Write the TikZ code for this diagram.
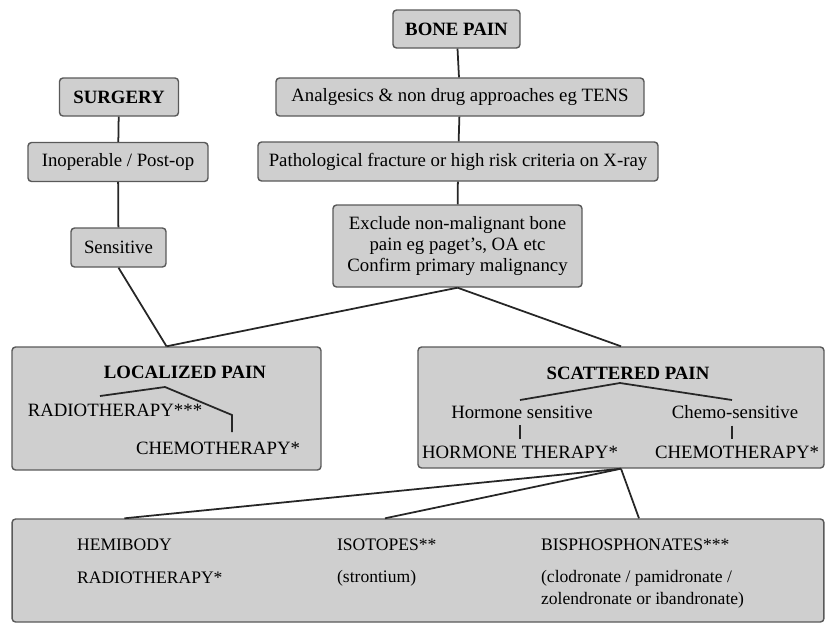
\documentclass[tikz,border=0pt]{standalone}
\usepackage{fontspec}
\setmainfont{Liberation Serif}
\definecolor{boxfill}{gray}{0.81}
\definecolor{boxline}{gray}{0.35}
\definecolor{linkcol}{gray}{0.15}
\tikzset{
  box/.style={draw=boxline, fill=boxfill, line width=0.8pt, rounded corners=0.07cm, inner sep=0pt, align=center},
  link/.style={draw=linkcol, line width=1pt},
  txt/.style={font=\fontsize{10.7}{12.2}\selectfont},
  head/.style={font=\fontsize{10.7}{12.2}\selectfont\bfseries},
  small/.style={font=\fontsize{10}{12}\selectfont, inner sep=1pt}
}
\begin{document}
\begin{tikzpicture}[x=0.02cm, y=-0.02cm]
  \useasboundingbox (0,0) rectangle (825,623);

  % main column
  \node[box, head, minimum width=2.54cm, minimum height=0.76cm] (bone) at (456.5,29) {BONE PAIN};
  \node[box, txt, minimum width=7.36cm, minimum height=0.76cm] (analg) at (460,97) {Analgesics \& non drug approaches eg TENS};
  \node[box, txt, minimum width=8cm, minimum height=0.78cm] (patho) at (458,161.5) {Pathological fracture or high risk criteria on X-ray};
  \node[box, txt, minimum width=4.98cm, minimum height=1.64cm] (excl) at (457.5,246) {Exclude non-malignant bone\\pain eg paget's, OA etc\\Confirm primary malignancy};

  % surgery column
  \node[box, head, minimum width=2.38cm, minimum height=0.76cm] (surg) at (119,97) {SURGERY};
  \node[box, txt, minimum width=3.6cm, minimum height=0.78cm] (inop) at (118,162) {Inoperable / Post-op};
  \node[box, txt, minimum width=1.9cm, minimum height=0.78cm] (sens) at (118.5,247.5) {Sensitive};

  % big boxes
  \node[box, minimum width=6.18cm, minimum height=2.46cm] (loc) at (166.5,408.5) {};
  \node[box, minimum width=8.12cm, minimum height=2.42cm] (scat) at (621,407.5) {};
  \node[box, minimum width=16.24cm, minimum height=2.06cm] (bot) at (418,570.5) {};

  \node[head] (loctitle) at (185,372) {LOCALIZED PAIN};
  \node[txt] (locradio) at (115,410) {RADIOTHERAPY***};
  \node[txt] (locchemo) at (218,448) {CHEMOTHERAPY*};

  \node[head] (scattitle) at (628,373) {SCATTERED PAIN};
  \node[txt] (hsens) at (522,412) {Hormone sensitive};
  \node[txt] (csens) at (735,412) {Chemo-sensitive};
  \node[txt] (hther) at (520,452) {HORMONE THERAPY*};
  \node[txt] (cther) at (737,452) {CHEMOTHERAPY*};

  \node[small, anchor=west] (hemi) at (75,545) {HEMIBODY};
  \node[small, anchor=west] (hemiradio) at (75,578) {RADIOTHERAPY*};
  \node[small, anchor=west] (iso) at (335,545) {ISOTOPES**};
  \node[small, anchor=west] (stron) at (335,578) {(strontium)};
  \node[small, anchor=west] (bis) at (539,545) {BISPHOSPHONATES***};
  \node[small, anchor=west] (clod) at (539,578) {(clodronate / pamidronate /};
  \node[small, anchor=west] (zol) at (539,600) {zolendronate or ibandronate)};

  % connectors
  \draw[link] (bone) -- (analg);
  \draw[link] (analg) -- (patho);
  \draw[link] (patho) -- (excl);
  \draw[link] (surg) -- (inop);
  \draw[link] (inop) -- (sens);
  \draw[link] (sens.south) -- (loc.north);
  \draw[link] (excl.south) -- (loc.north);
  \draw[link] (excl.south) -- (scat.north);

  \draw[link] (scat.south) -- (hemi.north |- bot.north);
  \draw[link] (scat.south) -- ([xshift=1cm]iso.north west |- bot.north);
  \draw[link] (scat.south) -- ([xshift=2cm]bis.north west |- bot.north);

  % brackets inside the boxes
  \coordinate (locapex) at (165,387);
  \coordinate (radiotop) at (100,396);
  \coordinate (chemoknee) at (232,415);
  \coordinate (chemotop) at (232,432);
  \draw[link] (radiotop) -- (locapex) -- (chemoknee) -- (chemotop);

  \coordinate (scatapex) at (620,383);
  \coordinate (hormtop) at (520,400);
  \coordinate (chemtop) at (732,400);
  \draw[link] (hormtop) -- (scatapex) -- (chemtop);
  \draw[link, shorten <=0.5pt, shorten >=0.5pt] (hsens.south -| hther.north) -- (hther.north);
  \draw[link, shorten <=0.5pt, shorten >=0.5pt] (csens.south -| 732,0) -- (cther.north -| 732,0);
\end{tikzpicture}
\end{document}
